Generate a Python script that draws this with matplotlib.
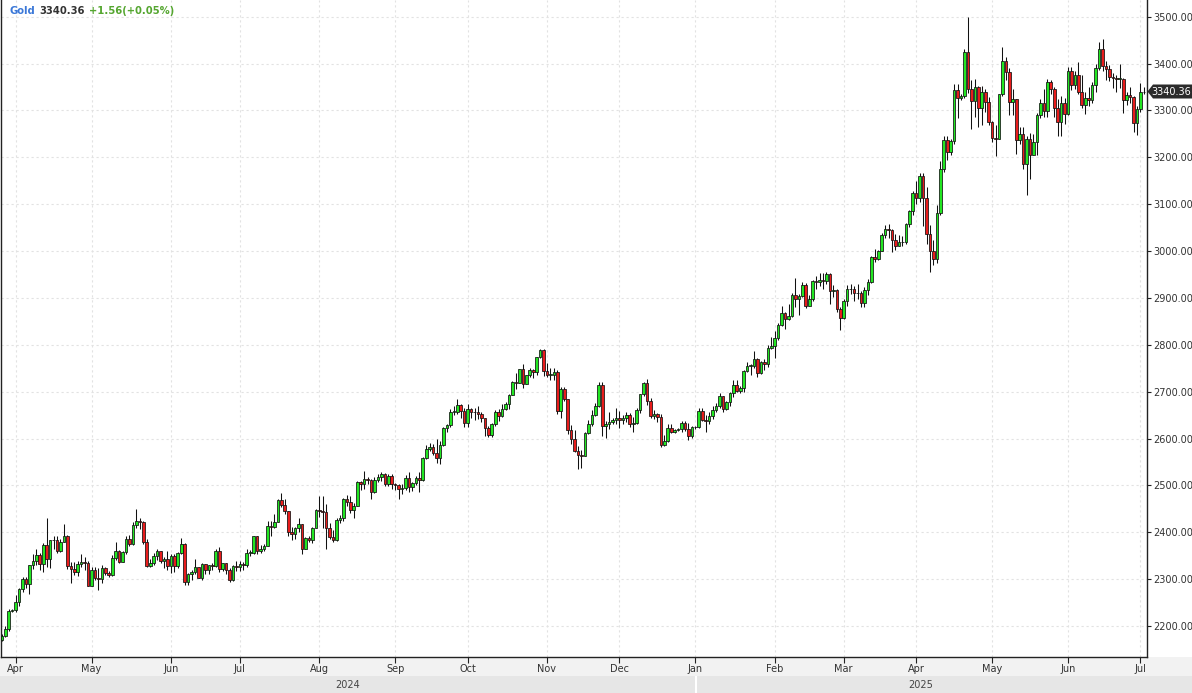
import matplotlib
matplotlib.use('Agg')
import matplotlib.pyplot as plt
import numpy as np
import pandas as pd
from matplotlib.patches import Rectangle, Polygon
from matplotlib.ticker import FormatStrFormatter

# ---------------- data (daily Gold candles, Mar 26 2024 - Jul 2 2025) ----------------
start_date = '2024-03-26'
end_date = '2025-07-02'
first_open = 2171.0

closes = [
    2178, 2194, 2233, 2234,  # Mar 24
    2251, 2280, 2300, 2290, 2330, 2339, 2352, 2333, 2372, 2344, 2383, 2383, 2361, 2379, 2392, 2327, 2322, 2316, 2332, 2337, 2335, 2286,  # Apr 24
    2320, 2303, 2301, 2323, 2314, 2309, 2346, 2360, 2336, 2358, 2385, 2376, 2415, 2425, 2421, 2379, 2329, 2334, 2350, 2361, 2338, 2343, 2327,  # May 24
    2350, 2327, 2355, 2375, 2294, 2311, 2316, 2325, 2303, 2333, 2319, 2330, 2328, 2360, 2322, 2334, 2320, 2298, 2327, 2326,  # Jun 24
    2332, 2330, 2356, 2356, 2392, 2359, 2364, 2371, 2414, 2411, 2422, 2469, 2458, 2445, 2400, 2396, 2409, 2418, 2364, 2387, 2384, 2410, 2447,  # Jul 24
    2446, 2443, 2409, 2390, 2383, 2427, 2431, 2472, 2465, 2447, 2456, 2507, 2503, 2514, 2512, 2485, 2512, 2518, 2524, 2504, 2520, 2503,  # Aug 24
    2500, 2493, 2495, 2516, 2497, 2506, 2516, 2512, 2558, 2578, 2582, 2569, 2559, 2587, 2622, 2628, 2657, 2657, 2672, 2658, 2634,  # Sep 24
    2662, 2657, 2656, 2653, 2644, 2622, 2607, 2630, 2657, 2649, 2662, 2674, 2692, 2721, 2719, 2748, 2717, 2735, 2747, 2743, 2774, 2788, 2744,  # Oct 24
    2736, 2736, 2743, 2659, 2706, 2684, 2618, 2598, 2573, 2565, 2562, 2612, 2631, 2650, 2670, 2715, 2626, 2632, 2636, 2639, 2643,  # Nov 24
    2639, 2643, 2650, 2632, 2633, 2660, 2694, 2718, 2680, 2648, 2652, 2646, 2586, 2594, 2622, 2613, 2618, 2620, 2634, 2621, 2606, 2624,  # Dec 24
    2624, 2658, 2640, 2637, 2649, 2661, 2670, 2690, 2663, 2677, 2697, 2715, 2702, 2708, 2745, 2755, 2755, 2770, 2740, 2763, 2760, 2794, 2798,  # Jan 25
    2815, 2843, 2867, 2856, 2861, 2907, 2898, 2904, 2928, 2883, 2898, 2936, 2934, 2939, 2936, 2951, 2915, 2916, 2876, 2858,  # Feb 25
    2893, 2918, 2920, 2911, 2910, 2889, 2916, 2934, 2988, 2984, 3001, 3035, 3048, 3044, 3023, 3011, 3020, 3019, 3057, 3085, 3124,  # Mar 25
    3113, 3160, 3114, 3037, 3000, 2982, 3082, 3175, 3237, 3211, 3235, 3343, 3327, 3330, 3425, 3345, 3320, 3350, 3305, 3340, 3318, 3275,  # Apr 25
    3241, 3240, 3334, 3405, 3382, 3318, 3325, 3237, 3250, 3185, 3238, 3205, 3232, 3290, 3316, 3298, 3360, 3345, 3305, 3275, 3315, 3292,  # May 25
    3385, 3355, 3375, 3340, 3312, 3326, 3322, 3355, 3390, 3432, 3395, 3388, 3372, 3370, 3368, 3368, 3323, 3333, 3328, 3274, 3303,  # Jun 25
    3338.80, 3340.36,  # Jul 25
]

highs = [
    2184, 2199, 2236, 2236,
    2266, 2281, 2305, 2305, 2331, 2354, 2365, 2355, 2378, 2431, 2384, 2393, 2392, 2385, 2417, 2395, 2336, 2336, 2339, 2353, 2347, 2338,
    2326, 2326, 2323, 2331, 2326, 2318, 2351, 2379, 2363, 2360, 2392, 2395, 2422, 2450, 2431, 2423, 2386, 2342, 2355, 2364, 2361, 2348, 2360,
    2354, 2353, 2357, 2388, 2378, 2314, 2320, 2342, 2326, 2335, 2333, 2331, 2335, 2365, 2368, 2335, 2335, 2324, 2330, 2338,
    2339, 2336, 2365, 2363, 2393, 2393, 2372, 2375, 2424, 2424, 2440, 2470, 2483, 2470, 2446, 2412, 2411, 2431, 2417, 2390, 2393, 2412, 2450,
    2477, 2477, 2461, 2420, 2404, 2431, 2437, 2474, 2479, 2477, 2463, 2509, 2510, 2531, 2518, 2514, 2517, 2524, 2528, 2526, 2524, 2524,
    2505, 2503, 2503, 2523, 2529, 2507, 2519, 2529, 2560, 2586, 2590, 2589, 2600, 2595, 2625, 2630, 2664, 2670, 2685, 2674, 2665,
    2673, 2665, 2666, 2670, 2657, 2644, 2626, 2634, 2661, 2662, 2674, 2679, 2696, 2722, 2740, 2749, 2758, 2736, 2750, 2749, 2775, 2790, 2790,
    2761, 2750, 2750, 2747, 2710, 2710, 2685, 2629, 2618, 2584, 2575, 2614, 2639, 2660, 2675, 2721, 2721, 2638, 2657, 2644, 2665,
    2658, 2650, 2657, 2655, 2645, 2666, 2696, 2721, 2726, 2686, 2661, 2654, 2653, 2608, 2632, 2630, 2620, 2622, 2638, 2638, 2633, 2626,
    2627, 2665, 2665, 2650, 2657, 2670, 2675, 2697, 2690, 2680, 2699, 2725, 2724, 2713, 2746, 2763, 2760, 2786, 2772, 2765, 2770, 2799, 2817,
    2830, 2846, 2882, 2870, 2886, 2911, 2942, 2909, 2933, 2932, 2907, 2938, 2947, 2954, 2954, 2956, 2954, 2927, 2918, 2880,
    2898, 2928, 2930, 2925, 2930, 2914, 2923, 2940, 2990, 3005, 3002, 3038, 3055, 3057, 3047, 3036, 3035, 3033, 3060, 3087, 3128,
    3149, 3167, 3167, 3136, 3055, 3023, 3099, 3193, 3245, 3245, 3240, 3357, 3357, 3336, 3430, 3500, 3365, 3367, 3352, 3352, 3345, 3328,
    3278, 3269, 3335, 3435, 3415, 3390, 3345, 3305, 3265, 3265, 3245, 3252, 3250, 3295, 3325, 3345, 3366, 3365, 3350, 3325, 3330, 3326,
    3392, 3392, 3385, 3403, 3375, 3339, 3349, 3360, 3398, 3446, 3452, 3405, 3396, 3380, 3375, 3398, 3370, 3340, 3350, 3330, 3309,
    3358, 3350,
]

lows = [
    2168, 2176, 2190, 2229,
    2229, 2242, 2272, 2281, 2268, 2321, 2331, 2319, 2316, 2326, 2324, 2364, 2355, 2358, 2379, 2321, 2291, 2309, 2306, 2326, 2320, 2285,
    2285, 2298, 2277, 2291, 2308, 2304, 2307, 2340, 2334, 2336, 2354, 2370, 2373, 2410, 2408, 2375, 2326, 2325, 2330, 2340, 2334, 2323, 2320,
    2314, 2316, 2324, 2353, 2287, 2287, 2298, 2311, 2302, 2299, 2310, 2312, 2320, 2326, 2316, 2318, 2312, 2293, 2296, 2318,
    2318, 2319, 2325, 2350, 2353, 2353, 2355, 2359, 2371, 2392, 2410, 2421, 2454, 2440, 2392, 2384, 2385, 2400, 2353, 2364, 2379, 2378, 2409,
    2432, 2410, 2364, 2385, 2380, 2381, 2419, 2425, 2456, 2441, 2431, 2456, 2490, 2492, 2502, 2470, 2484, 2507, 2509, 2498, 2499, 2492,
    2490, 2472, 2482, 2491, 2485, 2488, 2500, 2486, 2510, 2556, 2573, 2564, 2547, 2546, 2584, 2614, 2624, 2651, 2653, 2644, 2624,
    2624, 2644, 2640, 2642, 2635, 2606, 2604, 2603, 2626, 2638, 2647, 2660, 2664, 2692, 2705, 2718, 2708, 2718, 2731, 2729, 2735, 2771, 2733,
    2731, 2725, 2725, 2652, 2643, 2680, 2610, 2589, 2572, 2536, 2537, 2563, 2609, 2626, 2648, 2668, 2605, 2602, 2621, 2630, 2632,
    2622, 2632, 2635, 2625, 2613, 2632, 2655, 2691, 2672, 2643, 2642, 2636, 2582, 2583, 2593, 2612, 2611, 2616, 2613, 2616, 2597, 2602,
    2620, 2623, 2638, 2615, 2632, 2641, 2656, 2665, 2656, 2660, 2670, 2689, 2700, 2698, 2700, 2741, 2736, 2750, 2731, 2738, 2747, 2752, 2791,
    2772, 2810, 2840, 2834, 2853, 2860, 2880, 2864, 2902, 2878, 2882, 2894, 2920, 2925, 2918, 2930, 2888, 2902, 2870, 2832,
    2856, 2883, 2908, 2894, 2897, 2880, 2880, 2906, 2931, 2977, 2980, 3000, 3028, 3028, 2999, 3002, 3012, 3011, 3014, 3052, 3076,
    3100, 3105, 3054, 3015, 2956, 2970, 2975, 3077, 3168, 3194, 3205, 3228, 3283, 3323, 3326, 3338, 3260, 3287, 3265, 3268, 3296, 3268,
    3232, 3202, 3240, 3330, 3365, 3290, 3290, 3208, 3228, 3175, 3120, 3154, 3205, 3205, 3284, 3285, 3287, 3335, 3285, 3245, 3245, 3272,
    3290, 3343, 3345, 3335, 3306, 3293, 3310, 3315, 3340, 3386, 3385, 3365, 3362, 3348, 3340, 3347, 3295, 3312, 3316, 3255, 3247,
    3296, 3335,
]

year_labels = ['2024', '2025']
header_name = 'Gold'
header_price = '3340.36'
header_change = '+1.56(+0.05%)'
last_price = 3340.36

# ---------------- geometry ----------------
W, H = 1192, 693
plt.rcParams['font.family'] = ['DejaVu Sans']

fig = plt.figure(figsize=(W / 100, H / 100), dpi=100)
fig.patch.set_facecolor('white')

def fx(x):
    return x / W

def fy(y):
    return 1 - y / H

# bottom bands
fig.add_artist(Rectangle((0, fy(676)), 1, (676 - 657) / H, transform=fig.transFigure,
                         facecolor='#f2f2f2', edgecolor='none', zorder=0))
fig.add_artist(Rectangle((0, 0), 1, (693 - 676) / H, transform=fig.transFigure,
                         facecolor='#e6e6e6', edgecolor='none', zorder=0))

ax = fig.add_axes([fx(1), fy(657), (1146.5 - 1) / W, 657 / H])
ax.set_facecolor('white')

dates = pd.bdate_range(start_date, end_date)
n = min(len(dates), len(closes), len(highs), len(lows))
dates = dates[:n]
c = np.array(closes[:n], dtype=float)
o = np.concatenate([[first_open], c[:-1]])
h = np.maximum(np.array(highs[:n], dtype=float), np.maximum(o, c))
l = np.minimum(np.array(lows[:n], dtype=float), np.minimum(o, c))
x = np.arange(n)

up = c >= o
cols = np.where(up, '#22e622', '#e81c1c')

ax.vlines(x, l, h, color='#111111', linewidth=0.75, zorder=2)
body_b = np.minimum(o, c)
body_h = np.maximum(np.abs(c - o), 0.9)
ax.bar(x, body_h, bottom=body_b, width=0.76, color=cols, edgecolor='#111111',
       linewidth=0.55, zorder=3)

# axis limits (pixel mapping)
ax.set_xlim(-0.24, 331.75)
ax.set_ylim(2133.9, 3535.6)

# month ticks
month_idx = []
month_lab = []
prev = None
for i, d in enumerate(dates):
    key = (d.year, d.month)
    if key != prev:
        if i > 0:
            month_idx.append(i)
            month_lab.append(d.strftime('%b'))
        prev = key
ax.set_xticks(month_idx)
ax.set_xticklabels(month_lab)

yt = list(range(2200, 3501, 100))
ax.set_yticks(yt)
ax.yaxis.set_major_formatter(FormatStrFormatter('%.2f'))
ax.yaxis.tick_right()

ax.grid(True, color='#e2e2e2', linestyle=(0, (2, 2.5)), linewidth=0.8, zorder=0)
ax.set_axisbelow(True)

ax.tick_params(axis='y', which='both', left=False, right=True, length=3, width=0.8,
               pad=2, labelsize=7, colors='#222222', labelcolor='#333333')
ax.tick_params(axis='x', length=4, width=0.8, pad=1, labelsize=7, colors='#222222',
               labelcolor='#333333')

for s in ['left', 'right', 'bottom']:
    ax.spines[s].set_color('#222222')
    ax.spines[s].set_linewidth(1.0)
ax.spines['top'].set_visible(False)

# year band labels and separator
jan_idx = None
for i, d in enumerate(dates):
    if d.year == 2025:
        jan_idx = i
        break
x_sep = 1.84 + 3.4506 * jan_idx
fig.add_artist(Rectangle((fx(x_sep), 0), 2 / W, (693 - 676) / H, transform=fig.transFigure,
                         facecolor='white', edgecolor='none', zorder=1))
fig.text(fx(x_sep / 2), fy(685), year_labels[0], ha='center', va='center',
         fontsize=7, color='#444444')
fig.text(fx((x_sep + 1146) / 2), fy(685), year_labels[1], ha='center', va='center',
         fontsize=7, color='#444444')

# header
fig.canvas.draw()
rend = fig.canvas.get_renderer()
xcur = 10
for txt, col in [(header_name, '#3b78d8'), (header_price, '#333333'), (header_change, '#55a630')]:
    t = fig.text(fx(xcur), fy(11), txt, ha='left', va='center', fontsize=7.2,
                 fontweight='bold', color=col)
    bb = t.get_window_extent(renderer=rend)
    xcur += bb.width + 4

# last price tag
py = 626 - (last_price - 2200) * 0.46871
pts = [(1147.5, py), (1153, py - 7), (1192, py - 7), (1192, py + 7), (1153, py + 7)]
fig.add_artist(Polygon([(fx(a), fy(b)) for a, b in pts], closed=True,
                       transform=fig.transFigure, facecolor='#2b2b2b', edgecolor='none', zorder=5))
fig.text(fx(1171.5), fy(py), f'{last_price:.2f}', ha='center', va='center',
         fontsize=7, color='white', zorder=6)

fig.savefig('out.png', dpi=100)
